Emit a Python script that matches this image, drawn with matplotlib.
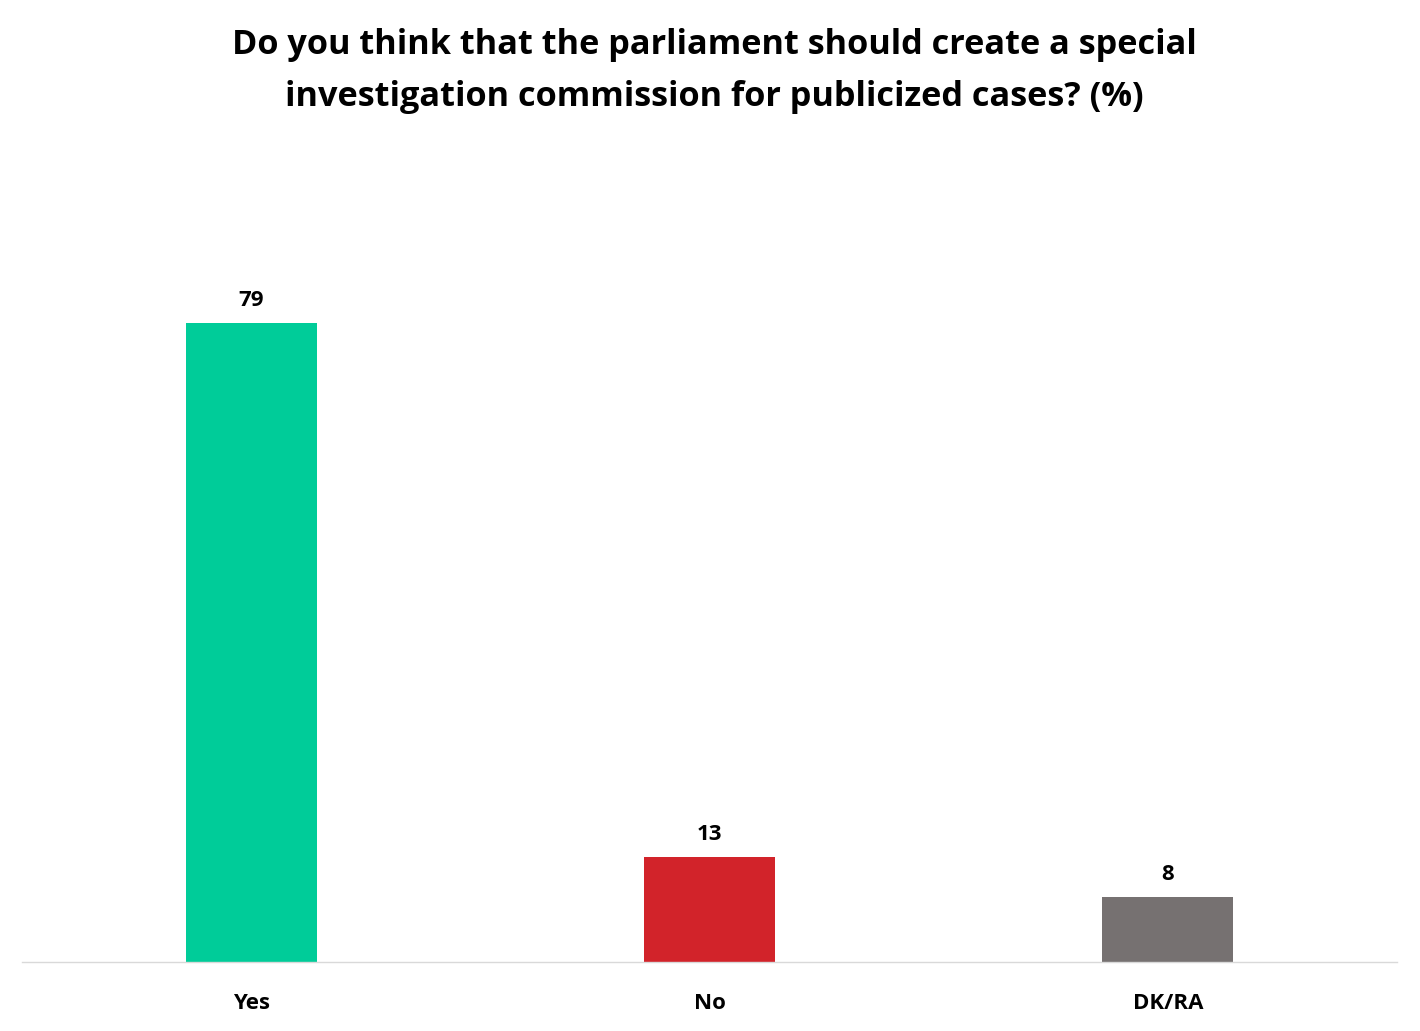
import matplotlib
matplotlib.use("Agg")
import matplotlib.pyplot as plt

# data
categories = ["Yes", "No", "DK/RA"]
values = [79, 13, 8]
colors = ["#00CC99", "#D2232A", "#767171"]

title = "Do you think that the parliament should create a special\ninvestigation commission for publicized cases? (%)"

plt.rcParams['font.family'] = ['Open Sans', 'DejaVu Sans']

fig = plt.figure(figsize=(14.2, 10.31), dpi=100)
ax = fig.add_axes([22/1420, 69/1031, 1375/1420, 728/1031])

x = range(len(categories))
bars = ax.bar(x, values, width=0.286, color=colors)

for xi, v in zip(x, values):
    ax.text(xi, v + 1.5, str(v), ha="center", va="bottom",
            fontsize=16, fontweight="bold")

ax.set_xlim(-0.5, 2.5)
ax.set_ylim(0, 90)
ax.set_xticks(list(x))
ax.set_xticklabels(categories, fontsize=16, fontweight="bold")
ax.tick_params(axis="x", length=0, pad=22)
ax.set_yticks([])
for s in ["top", "right", "left"]:
    ax.spines[s].set_visible(False)
ax.spines["bottom"].set_color("#D9D9D9")
ax.spines["bottom"].set_linewidth(1)

fig.text(0.503, 0.931, title, ha="center", va="center", fontsize=24.7,
         fontweight="bold", linespacing=1.68)

fig.savefig("out.png", dpi=100)
